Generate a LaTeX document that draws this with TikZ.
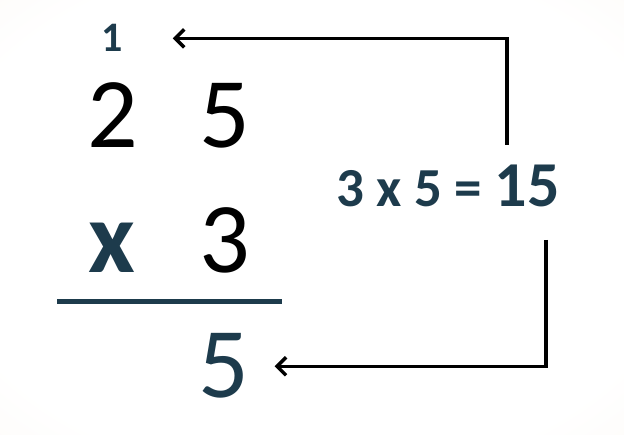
\documentclass[tikz,border=0pt]{standalone}
\usepackage{fontspec}
\setmainfont{Carlito}
\usetikzlibrary{arrows.meta}
\definecolor{inkteal}{HTML}{1D3B4C}
\definecolor{paper}{HTML}{F1E2D2}
\pgfdeclareradialshading{paperglow}{\pgfpoint{0bp}{0bp}}{color(0bp)=(white); color(30bp)=(white); color(90bp)=(paper); color(100bp)=(paper)}
\tikzstyle{digit} = [anchor=base, inner sep=0pt, font=\fontsize{100}{100}\selectfont]
\tikzstyle{carryD} = [anchor=base, inner sep=0pt, text=inkteal, font=\bfseries\fontsize{42}{42}\selectfont]
\tikzstyle{stepD} = [anchor=base, inner sep=0pt, text=inkteal, font=\bfseries\fontsize{55}{55}\selectfont]
\tikzstyle{link} = [line width=3.5pt, black, -{Straight Barb[length=9pt,width=18pt]}]

\begin{document}
\begin{tikzpicture}[x=1pt, y=-1pt]
\shade[shading=paperglow] (0,0) rectangle (624,435);
\useasboundingbox (0,0) rectangle (624,435);

% Define nodes
\node[carryD]                                  (c)  at (112,52)  {1};
\node[digit]                                   (t2) at (113,148) {2};
\node[digit]                                   (t5) at (225,148) {5};
\node[digit, text=inkteal, font=\bfseries\fontsize{102}{102}\selectfont] (op) at (112,273) {x};
\node[digit]                                   (b3) at (225,273) {3};
\node[digit, text=inkteal]                     (r)  at (224,398) {5};
\node[stepD]                                   (eq) at (448,207) {3 x 5 = {\fontsize{64}{64}\selectfont 15}};

\coordinate (upStart)   at (507,145);
\coordinate (downStart) at (546,240);

% Rule
\draw[inkteal, line width=5pt] (57,302) -- (282,302);

% Edges
\draw[link, shorten >=50pt] (upStart)   |- (c);%
\draw[link, shorten >=25pt] (downStart) |- (r);%

\end{tikzpicture}
\end{document}
